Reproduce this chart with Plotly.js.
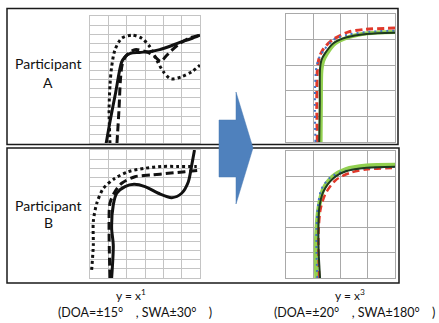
<!DOCTYPE html>
<html>
<head>
<meta charset="utf-8">
<script src="https://cdn.plot.ly/plotly-3.0.1.min.js"></script>
<style>html,body{margin:0;padding:0;background:#fff;}#chart{width:439px;height:323px;}</style>
</head>
<body>
<div id="chart"></div>
<script>
// ---- Data (grid units) ----
// Participant A, y = x^1
const aSolidX = [0.88, 1.1, 1.4, 1.72, 1.9, 2.2, 2.7, 3.3, 3.8, 4.4, 4.9, 5.5, 6.0];
const aSolidY = [0, 2.5, 5.6, 8.9, 9.5, 9.9, 10.0, 10.1, 10.3, 10.7, 11.1, 11.5, 11.9];
const aDashX = [1.47, 1.58, 1.66, 1.75, 1.96, 2.45, 3.16, 3.55, 3.85, 4.15, 4.47, 4.91, 5.46, 6.0];
const aDashY = [0, 3.67, 6.97, 8.6, 9.6, 10.3, 10.0, 9.5, 9.0, 9.6, 10.26, 11.0, 11.6, 11.9];
const aDotX = [1.09, 1.04, 1.09, 1.18, 1.36, 1.73, 2.3, 2.82, 3.27, 3.64, 4.0, 4.4, 5.0, 5.55, 6.0];
const aDotY = [0, 3.67, 6.4, 8.4, 10.26, 11.55, 11.9, 11.55, 10.6, 9.16, 7.88, 7.1, 7.33, 7.88, 8.6];
// Participant B, y = x^1
const bSolidX = [1.18, 1.27, 1.18, 1.27, 1.46, 1.91, 2.4, 3.0, 3.73, 4.46, 5.0, 5.36, 5.55, 5.7];
const bSolidY = [0, 3.6, 5.44, 8.0, 9.27, 10.0, 10.25, 10.0, 9.27, 8.79, 9.27, 10.5, 12.36, 14.0];
const bDashX = [1.09, 1.04, 1.09, 1.36, 1.73, 2.45, 3.37, 4.27, 5.18, 6.0];
const bDashY = [0, 5.47, 8.2, 9.44, 10.36, 11.08, 11.27, 11.45, 11.63, 11.8];
const bDotX = [0.09, 0.18, 0.18, 0.37, 0.73, 1.36, 2.09, 3.0, 3.91, 4.82, 5.73, 6.0];
const bDotY = [0.88, 3.6, 6.16, 8.17, 9.8, 10.9, 11.63, 12.0, 12.2, 12.2, 12.2, 12.2];
// Participant A, y = x^3
const cBlackX = [1.22, 1.24, 1.25, 1.3, 1.43, 1.74, 2.23, 2.96, 4.0];
const cBlackY = [0, 1.5, 2.88, 3.2, 3.46, 3.86, 4.09, 4.22, 4.27];
const cGreenX = [1.27, 1.28, 1.3, 1.36, 1.5, 1.8, 2.3, 3.0, 4.0];
const cGreenY = [0, 1.5, 2.8, 3.15, 3.45, 3.85, 4.1, 4.25, 4.3];
const cRedX = [1.15, 1.13, 1.15, 1.22, 1.38, 1.72, 2.3, 2.9, 4.0];
const cRedY = [0, 1.5, 2.8, 3.3, 3.65, 4.0, 4.3, 4.4, 4.45];
const cBlueX = [1.08, 1.06, 1.1, 1.2, 1.4, 1.75, 2.3, 3.0, 4.0];
const cBlueY = [0, 1.5, 2.8, 3.25, 3.6, 4.0, 4.2, 4.3, 4.35];
// Participant B, y = x^3
const dBlackX = [1.25, 1.2, 1.19, 1.22, 1.37, 1.74, 2.23, 2.96, 4.0];
const dBlackY = [0, 1.0, 1.96, 2.74, 3.4, 3.93, 4.21, 4.34, 4.38];
const dGreenX = [1.12, 1.1, 1.13, 1.2, 1.35, 1.7, 2.2, 2.95, 4.0];
const dGreenY = [0, 1.0, 1.96, 2.74, 3.45, 3.98, 4.28, 4.42, 4.45];
const dRedX = [1.22, 1.19, 1.2, 1.27, 1.45, 1.82, 2.35, 3.0, 4.0];
const dRedY = [0, 1.0, 1.96, 2.72, 3.32, 3.85, 4.14, 4.28, 4.33];
const dBlueX = [1.15, 1.12, 1.12, 1.17, 1.3, 1.65, 2.2, 3.0, 4.0];
const dBlueY = [0, 1.0, 1.96, 2.8, 3.5, 3.98, 4.22, 4.33, 4.37];

const participantLabels = ["Participant", "A", "Participant", "B"];
const captionTop = ["y = x<sup>1</sup>", "y = x<sup>3</sup>"];
const captionBottom = ["(DOA=±15°\u3000, SWA±30°\u3000)", "(DOA=±20°\u3000, SWA±180°\u3000)"];

// ---- Layout helpers ----
const W = 439, H = 323;
const fx = p => p / W;
const fy = p => 1 - p / H;

function line(x, y, xa, ya, color, width, dash) {
  return {x: x, y: y, xaxis: xa, yaxis: ya, type: 'scatter', mode: 'lines',
    line: {color: color, width: width, dash: dash || 'solid', shape: 'spline', smoothing: 0.8},
    hoverinfo: 'skip'};
}

const traces = [
  line(aDotX, aDotY, 'x', 'y', '#111', 3, '3px,3px'),
  line(aDashX, aDashY, 'x', 'y', '#111', 3, '8px,4px'),
  line(aSolidX, aSolidY, 'x', 'y', '#111', 3),
  line(bDotX, bDotY, 'x2', 'y2', '#111', 3, '3px,3px'),
  line(bDashX, bDashY, 'x2', 'y2', '#111', 3, '8px,4px'),
  line(bSolidX, bSolidY, 'x2', 'y2', '#111', 3),
  line(cGreenX, cGreenY, 'x3', 'y3', '#92d050', 4),
  line(cRedX, cRedY, 'x3', 'y3', '#e0392b', 3, '7px,4px'),
  line(cBlueX, cBlueY, 'x3', 'y3', '#4472c4', 2, '2px,4px'),
  line(cBlackX, cBlackY, 'x3', 'y3', '#1e3a1e', 2),
  line(dGreenX, dGreenY, 'x4', 'y4', '#92d050', 4.5),
  line(dRedX, dRedY, 'x4', 'y4', '#e0392b', 2.5, '7px,4px'),
  line(dBlueX, dBlueY, 'x4', 'y4', '#4472c4', 2, '2px,4px'),
  line(dBlackX, dBlackY, 'x4', 'y4', '#1e3a1e', 2)
];

function ax(domain, range, color, width, anchor) {
  return {domain: domain, range: range, anchor: anchor, dtick: 1, tick0: 0,
    showgrid: true, gridcolor: color, gridwidth: width, zeroline: false,
    showticklabels: false, ticks: '', showline: true, mirror: true,
    linecolor: color, linewidth: width, fixedrange: true};
}

const leftGrid = '#c4c4c4', rightGrid = '#a9a9a9';
const layout = {
  width: W, height: H, margin: {l: 0, r: 0, t: 0, b: 0},
  paper_bgcolor: '#fff', plot_bgcolor: '#fff', showlegend: false,
  xaxis: ax([fx(90), fx(200)], [0, 6], leftGrid, 1, 'y'),
  yaxis: ax([fy(143.4), fy(16)], [0, 14], leftGrid, 1, 'x'),
  xaxis2: ax([fx(90), fx(200)], [0, 6], leftGrid, 1, 'y2'),
  yaxis2: ax([fy(278), fy(150)], [0, 14], leftGrid, 1, 'x2'),
  xaxis3: ax([fx(286), fx(395)], [0, 4], rightGrid, 1.2, 'y3'),
  yaxis3: ax([fy(142), fy(14)], [0, 5], rightGrid, 1.2, 'x3'),
  xaxis4: ax([fx(286), fx(395)], [0, 4], rightGrid, 1.2, 'y4'),
  yaxis4: ax([fy(278), fy(151)], [0, 5], rightGrid, 1.2, 'x4'),
  shapes: [
    {type: 'rect', xref: 'paper', yref: 'paper', x0: fx(7), x1: fx(398), y0: fy(8.5), y1: fy(144.5),
      line: {color: '#1a1a1a', width: 1.5}, fillcolor: 'rgba(0,0,0,0)', layer: 'above'},
    {type: 'rect', xref: 'paper', yref: 'paper', x0: fx(7), x1: fx(399), y0: fy(148), y1: fy(283),
      line: {color: '#1a1a1a', width: 1.5}, fillcolor: 'rgba(0,0,0,0)', layer: 'above'},
    {type: 'path', xref: 'paper', yref: 'paper', layer: 'above',
      path: 'M' + [[219,120],[236,120],[236,92],[253,148],[236,204],[236,177],[219,177]]
        .map(p => fx(p[0]) + ',' + fy(p[1])).join(' L') + ' Z',
      fillcolor: '#4f81bd', line: {color: '#4a7ab3', width: 0.5}}
  ],
  annotations: [
    {text: participantLabels[0], x: fx(48), y: fy(63)},
    {text: participantLabels[1], x: fx(48), y: fy(82)},
    {text: participantLabels[2], x: fx(48), y: fy(205)},
    {text: participantLabels[3], x: fx(48), y: fy(222)},
    {text: captionTop[0], x: fx(131), y: fy(295), size: 12},
    {text: captionBottom[0], x: fx(135), y: fy(312), size: 12.5},
    {text: captionTop[1], x: fx(350), y: fy(295), size: 12},
    {text: captionBottom[1], x: fx(354), y: fy(312), size: 12.5}
  ].map(a => ({text: a.text, x: a.x, y: a.y, xref: 'paper', yref: 'paper',
    xanchor: 'center', yanchor: 'middle', showarrow: false,
    font: {family: 'Lato, "Noto Sans CJK JP", sans-serif', size: a.size || 14, color: '#111'}}))
};

Plotly.newPlot('chart', traces, layout, {staticPlot: true, displayModeBar: false});
</script>
</body>
</html>
